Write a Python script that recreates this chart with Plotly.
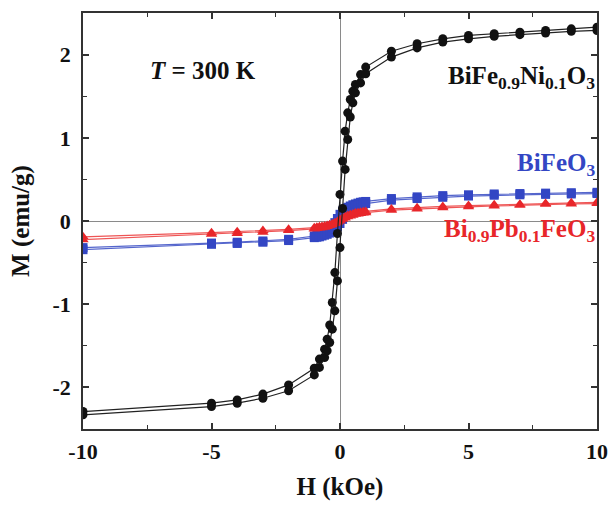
import plotly.graph_objects as go

# ---------------- data ----------------
# BiFe0.9Ni0.1O3 (black circles)
H_black_desc = [10, 9, 8, 7, 6, 5, 4, 3, 2, 1, 0.8, 0.6, 0.5, 0.4, 0.3, 0.2, 0.1, 0,
                -0.1, -0.2, -0.3, -0.4, -0.5, -0.6, -0.8, -1, -2, -3, -4, -5, -10]
M_black_desc = [2.33, 2.31, 2.29, 2.27, 2.25, 2.23, 2.19, 2.13, 2.04, 1.85, 1.76, 1.64, 1.56, 1.46, 1.30, 1.08, 0.72, 0.32,
                -0.15, -0.62, -0.98, -1.25, -1.42, -1.54, -1.66, -1.77, -1.97, -2.08, -2.15, -2.19, -2.29]
H_black_asc = [-10, -5, -4, -3, -2, -1, -0.8, -0.6, -0.5, -0.4, -0.3, -0.2, -0.1, 0,
               0.1, 0.2, 0.3, 0.4, 0.5, 0.6, 0.8, 1, 2, 3, 4, 5, 6, 7, 8, 9, 10]
M_black_asc = [-2.33, -2.23, -2.19, -2.13, -2.04, -1.85, -1.76, -1.64, -1.56, -1.46, -1.30, -1.08, -0.72, -0.32,
               0.15, 0.62, 0.98, 1.25, 1.42, 1.54, 1.66, 1.77, 1.97, 2.08, 2.15, 2.19, 2.22, 2.24, 2.26, 2.28, 2.29]

# BiFeO3 (blue squares) and Bi0.9Pb0.1FeO3 (red triangles)
H_desc = [10, 9, 8, 7, 6, 5, 4, 3, 2, 1, 0.9, 0.8, 0.7, 0.6, 0.5, 0.4, 0.3, 0.2, 0.1, 0,
          -0.1, -0.2, -0.3, -0.4, -0.5, -0.6, -0.7, -0.8, -0.9, -1, -2, -3, -4, -5, -10]
H_asc = [-10, -5, -4, -3, -2, -1, -0.9, -0.8, -0.7, -0.6, -0.5, -0.4, -0.3, -0.2, -0.1, 0,
         0.1, 0.2, 0.3, 0.4, 0.5, 0.6, 0.7, 0.8, 0.9, 1, 2, 3, 4, 5, 6, 7, 8, 9, 10]
M_blue_desc = [0.345, 0.34, 0.335, 0.33, 0.325, 0.315, 0.305, 0.29, 0.27, 0.235, 0.23, 0.225, 0.215, 0.205, 0.195,
               0.18, 0.165, 0.145, 0.12, 0.08, 0.03, -0.02, -0.06, -0.09, -0.11, -0.13, -0.145, -0.16, -0.17, -0.18,
               -0.22, -0.24, -0.255, -0.265, -0.32]
M_blue_asc = [-0.345, -0.28, -0.27, -0.255, -0.235, -0.2, -0.195, -0.19, -0.18, -0.17, -0.16, -0.145, -0.125, -0.1,
              -0.07, -0.03, 0.02, 0.07, 0.11, 0.14, 0.16, 0.175, 0.185, 0.195, 0.2, 0.21, 0.25, 0.27, 0.285, 0.3,
              0.31, 0.315, 0.32, 0.325, 0.33]
M_red_desc = [0.225, 0.22, 0.21, 0.2, 0.195, 0.185, 0.175, 0.16, 0.145, 0.115, 0.11, 0.105, 0.1, 0.095, 0.085,
              0.075, 0.065, 0.05, 0.035, 0.015, -0.005, -0.02, -0.035, -0.045, -0.055, -0.06, -0.065, -0.07, -0.075,
              -0.08, -0.1, -0.115, -0.13, -0.14, -0.19]
M_red_asc = [-0.225, -0.16, -0.15, -0.135, -0.115, -0.095, -0.09, -0.085, -0.08, -0.075, -0.065, -0.055, -0.045,
             -0.03, -0.015, 0.0, 0.02, 0.035, 0.05, 0.06, 0.07, 0.08, 0.085, 0.09, 0.095, 0.1, 0.13, 0.145, 0.16,
             0.17, 0.18, 0.19, 0.2, 0.205, 0.21]

BLACK = "#111111"
BLUE = "#3346c4"
RED = "#e8262a"
FONT = "Liberation Serif, Times New Roman, serif"

fig = go.Figure()


def add_branch(x, y, color, line_color, symbol, size):
    fig.add_trace(go.Scatter(
        x=x, y=y, mode="lines+markers",
        line=dict(color=line_color, width=1.2),
        marker=dict(symbol=symbol, size=size, color=color, line=dict(width=0)),
        showlegend=False, hoverinfo="skip"))


add_branch(H_desc, M_blue_desc, BLUE, "#5566cc", "square", 9)
add_branch(H_asc, M_blue_asc, BLUE, "#5566cc", "square", 9)
add_branch(H_desc, M_red_desc, RED, "#ee5555", "triangle-up", 10)
add_branch(H_asc, M_red_asc, RED, "#ee5555", "triangle-up", 10)
add_branch(H_black_desc, M_black_desc, BLACK, "#222222", "circle", 9)
add_branch(H_black_asc, M_black_asc, BLACK, "#222222", "circle", 9)

axis_common = dict(
    showline=True, linecolor="#333333", linewidth=1.5, mirror="ticks",
    ticks="inside", ticklen=6, tickwidth=1.5, tickcolor="#333333",
    showgrid=False, zeroline=True, zerolinecolor="#8a8a8a", zerolinewidth=1,
    tickfont=dict(family=FONT, size=22, color="#111111", weight="bold"),
)

fig.update_xaxes(
    range=[-10, 10], tickmode="array", tickvals=[-10, -5, 0, 5, 10],
    ticktext=["-10", "-5", "0", "5", "10"],
    minor=dict(ticks="inside", ticklen=4, tickwidth=1.2, tickcolor="#333333", dtick=2.5, tick0=0),
    title=dict(text="H (kOe)", font=dict(family=FONT, size=25, color="#111111", weight="bold"), standoff=14),
    ticklabelstandoff=2,
    **axis_common)
fig.update_yaxes(
    range=[-2.5, 2.5], tickmode="array", tickvals=[-2, -1, 0, 1, 2],
    ticktext=["-2", "-1", "0", "1", "2"],
    minor=dict(ticks="inside", ticklen=4, tickwidth=1.2, tickcolor="#333333", dtick=0.5, tick0=0),
    title=dict(text="M (emu/g)", font=dict(family=FONT, size=25, color="#111111", weight="bold"), standoff=16),
    ticklabelstandoff=6,
    **axis_common)

ann_font = dict(family=FONT, size=25, weight="bold")
fig.add_annotation(x=-5.35, y=1.81, xref="x", yref="y", text="<i>T</i> = 300 K",
                   showarrow=False, font=dict(**ann_font, color="#111111"))
fig.add_annotation(x=1.0, y=1.72, xref="paper", yref="y", xanchor="right",
                   text="BiFe<sub>0.9</sub>Ni<sub>0.1</sub>O<sub>3</sub>",
                   showarrow=False, font=dict(**ann_font, color="#111111"))
fig.add_annotation(x=1.0, y=0.68, xref="paper", yref="y", xanchor="right",
                   text="BiFeO<sub>3</sub>",
                   showarrow=False, font=dict(**ann_font, color=BLUE))
fig.add_annotation(x=1.0, y=-0.12, xref="paper", yref="y", xanchor="right",
                   text="Bi<sub>0.9</sub>Pb<sub>0.1</sub>FeO<sub>3</sub>",
                   showarrow=False, font=dict(**ann_font, color=RED))

fig.update_layout(
    width=609, height=509,
    margin=dict(l=83, r=12, t=13, b=80, autoexpand=False),
    paper_bgcolor="white", plot_bgcolor="white",
    font=dict(family=FONT),
)

fig.write_html("out.html")
